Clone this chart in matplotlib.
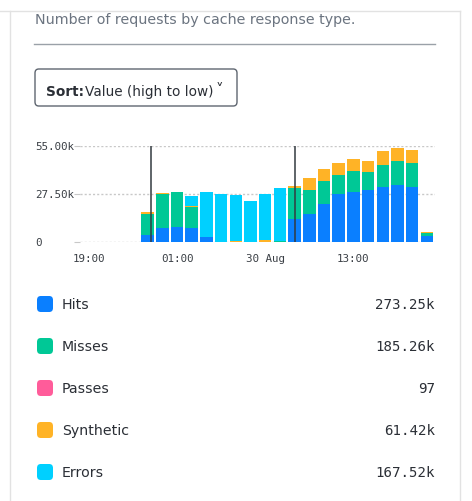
import matplotlib
matplotlib.use("Agg")
import matplotlib.pyplot as plt
from matplotlib.patches import FancyBboxPatch
from matplotlib.lines import Line2D

hours = list(range(4, 24))  # hours after 19:00
hits = [4.2, 8.2, 8.8, 8.2, 3.0, 0, 0, 0, 0, 0, 13.4, 16.2, 21.9, 27.7, 28.8, 30.0, 31.7, 32.8, 31.7, 3.6]
misses = [12.0, 19.5, 20.0, 11.6, 0, 0, 0, 0, 0, 0.3, 17.7, 13.8, 13.2, 10.8, 12.0, 10.3, 12.6, 13.8, 13.7, 1.7]
passes = [0]*20
synthetic = [0.8, 0.5, 0, 0.8, 0, 0, 0.3, 0, 1.0, 0.5, 1.2, 6.8, 6.9, 6.9, 6.9, 6.3, 8.0, 7.4, 7.5, 0.6]
errors = [0, 0, 0, 5.9, 25.8, 27.7, 26.8, 23.7, 26.7, 30.3, 0, 0, 0, 0, 0, 0, 0, 0, 0, 0]
xticks = [0, 6, 12, 18]
xticklabels = ["19:00", "01:00", "30 Aug", "13:00"]
yticks = [0, 27.5, 55]
yticklabels = ["0", "27.50k", "55.00k"]
markers = [4.2, 14.0]
legend_names = ["Hits", "Misses", "Passes", "Synthetic", "Errors"]
legend_values = ["273.25k", "185.26k", "97", "61.42k", "167.52k"]
colors = ["#0a7fff", "#00c896", "#ff5c9a", "#ffb326", "#00d0ff"]

W, H = 472, 502
fig = plt.figure(figsize=(W/100, H/100), dpi=100)
def fx(x): return x / W
def fy(y): return 1 - y / H

fig.add_artist(Line2D([0, fx(460)], [fy(12), fy(12)], color="#e2e2e2", lw=1))
fig.add_artist(Line2D([fx(10), fx(10)], [fy(12), 0], color="#e2e2e2", lw=1))
fig.add_artist(Line2D([fx(460), fx(460)], [fy(12), 0], color="#e2e2e2", lw=1))

fig.text(fx(35), fy(20), "Number of requests by cache response type.", fontsize=10.3,
         color="#6b7480", va="center", ha="left")
fig.add_artist(Line2D([fx(34), fx(435)], [fy(45), fy(45)], color="#9aa1a8", lw=1))
fig.add_artist(FancyBboxPatch((fx(35), fy(107)), fx(202), 37/H,
                              boxstyle="round,pad=0,rounding_size=0.008",
                              transform=fig.transFigure, fc="white", ec="#5f6670", lw=1))
fig.text(fx(46), fy(92), "Sort:", fontsize=9.8, weight="bold", color="#2b2f36", va="center")
fig.text(fx(85), fy(92), "Value (high to low)", fontsize=9.8, color="#2b2f36", va="center")
fig.text(fx(219), fy(90), "\u02c5", fontsize=11, color="#2b2f36", va="center", ha="center")

ax = fig.add_axes([fx(80), fy(243), fx(355), 96/H])
bottom = [0]*20
for vals, c in zip([hits, misses, passes, synthetic, errors], colors):
    ax.bar(hours, vals, width=0.85, bottom=bottom, color=c, zorder=2)
    bottom = [b+v for b, v in zip(bottom, vals)]
for m in markers:
    ax.axvline(m, color="#333a40", lw=1.1, zorder=3)
ax.set_xlim(-0.6, 23.55)
ax.set_ylim(0, 55)
for y in yticks:
    ax.axhline(y, color="#c8c8c8", lw=1, ls=(0, (1.5, 1.5)), zorder=1)
for s in ax.spines.values():
    s.set_visible(False)
ax.set_yticks(yticks)
ax.set_yticklabels([])
for y, l in zip(yticks, yticklabels):
    ax.text(-0.6 - 45/14.7, y, l, fontsize=7.8, family="DejaVu Sans Mono", color="#3a3f45",
            va="center", ha="left")
ax.tick_params(axis="y", length=4, color="#c8c8c8")
ax.set_xticks(xticks)
ax.set_xticklabels(xticklabels, family="DejaVu Sans Mono", fontsize=7.8, color="#3a3f45")
ax.tick_params(axis="x", length=0, pad=8)

rows = [305, 347, 389, 431, 473]
for y, n, v, c in zip(rows, legend_names, legend_values, colors):
    fig.add_artist(FancyBboxPatch((fx(37), fy(y+8)), fx(16), 16/H,
                                  boxstyle="round,pad=0,rounding_size=0.008",
                                  transform=fig.transFigure, fc=c, ec="none"))
    fig.text(fx(62), fy(y), n, fontsize=10.2, color="#2b2f36", va="center")
    fig.text(fx(435), fy(y), v, fontsize=10.2, family="DejaVu Sans Mono", color="#2b2f36",
             va="center", ha="right")

fig.savefig("out.png", dpi=100)
